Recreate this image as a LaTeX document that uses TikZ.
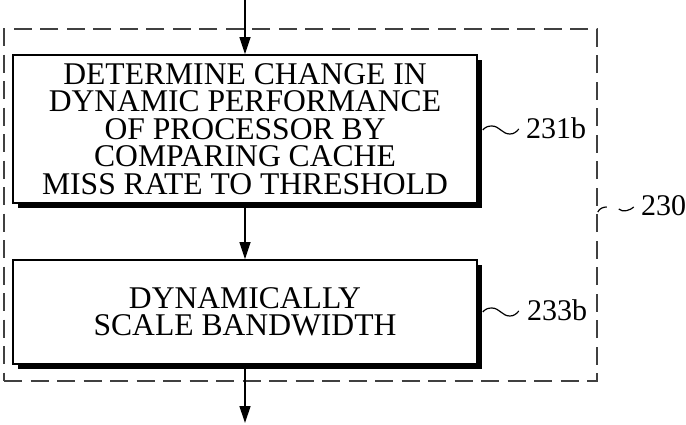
\documentclass[tikz,border=0pt]{standalone}
\usepackage{fontspec}
\setmainfont{Liberation Serif}
\usetikzlibrary{arrows.meta,shadows}

\tikzset{
  stepbox/.style={draw, line width=1.6pt, fill=white, inner sep=0pt,
    minimum width=464pt, align=center,
    font=\fontsize{31.6}{27.5}\selectfont,
    drop shadow={shadow xshift=5pt, shadow yshift=-5pt, fill=black, opacity=1}},
  flow/.style={line width=1.3pt, -{Triangle[length=17pt,width=11pt]}},
  group/.style={draw=black!75, line width=1.5pt, dash pattern=on 18pt off 8.5pt,
    minimum width=593pt, minimum height=352pt, inner sep=0pt},
  refnum/.style={inner sep=0pt, anchor=base west, font=\fontsize{30}{30}\selectfont},
  leader/.style={line width=1.2pt}
}

\begin{document}
\begin{tikzpicture}[x=1pt, y=-1pt]
  \useasboundingbox (0,0) rectangle (686,424);

  % dashed outline of the whole step
  \node[group] (grp) at (300.5,205) {};

  % the two process boxes
  \node[stepbox, minimum height=148pt] (b1) at (245,129)
    {DETERMINE CHANGE IN\\DYNAMIC PERFORMANCE\\OF PROCESSOR BY\\COMPARING CACHE\\MISS RATE TO THRESHOLD};
  \node[stepbox, minimum height=104pt] (b2) at (245,312)
    {DYNAMICALLY\\SCALE BANDWIDTH};

  % flow arrows
  \coordinate (in) at (245,0);
  \coordinate (out) at (245,423);
  \draw[flow] (in) -- (b1.north);
  \draw[flow] (b1.south) -- (b2.north);
  \draw[flow] (b2.south) -- (out);

  % reference numerals
  \node[refnum] (l231) at (526,138) {231b};
  \node[refnum] (l233) at (527,320) {233b};
  \node[refnum] (l230) at (641,215) {230};

  % wavy leaders
  \draw[leader] ([xshift=5pt,yshift=-1pt]b1.east) to[out=50,in=180] ++(9,-4)
    to[out=0,in=180] ++(18,8) to[out=0,in=230] ++(9,-5);
  \draw[leader] ([xshift=5pt,yshift=0pt]b2.east) to[out=50,in=180] ++(9,-4)
    to[out=0,in=180] ++(18,8) to[out=0,in=230] ++(9,-5);
  \draw[leader] ([yshift=-7pt]grp.east) .. controls +(2,-4) and +(-3,0) .. ++(9,-5);
  \draw[leader] ([xshift=21pt,yshift=-4pt]grp.east) .. controls +(4,4) and +(-3,3) .. ++(15,-2);
\end{tikzpicture}
\end{document}
